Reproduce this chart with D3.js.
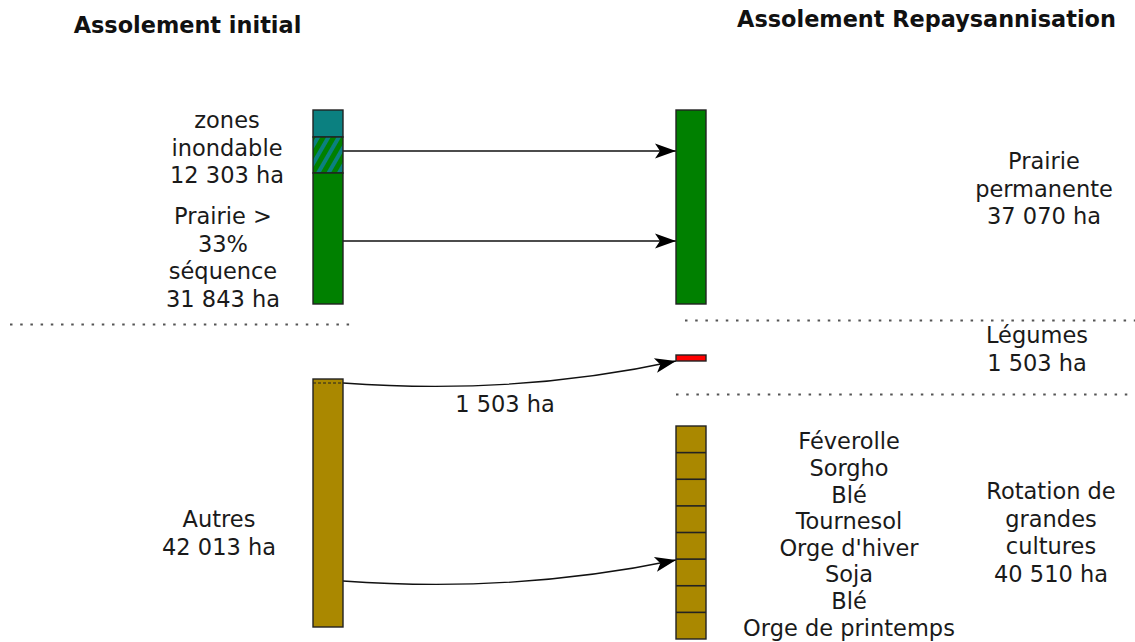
<!DOCTYPE html>
<html><head><meta charset="utf-8">
<script src="https://cdn.jsdelivr.net/npm/d3@7"></script>
<style>html,body{margin:0;padding:0;background:#fff;}svg{display:block;font-family:"DejaVu Sans",sans-serif;}</style>
</head><body>
<svg id="c" width="1135" height="642"></svg>
<script>
// ---- data ----
const titles = ["Assolement initial", "Assolement Repaysannisation"];
const columns = ["initial", "repaysannisation"];
// schematic blocks (extent in schematic units from the top of the bars)
const leftBlocks = [
  {name: "zones inondable", kind: "teal", from: 0, to: 27},
  {name: "zones inondable (prairie)", kind: "hatch", from: 27, to: 63},
  {name: "Prairie > 33% séquence", kind: "green", from: 63, to: 194},
  {name: "Autres", kind: "brown", from: 269, to: 517}
];
const rightBlocks = [
  {name: "Prairie permanente", kind: "green", from: 0, to: 194},
  {name: "Légumes", kind: "red", from: 245, to: 251},
  {name: "Rotation de grandes cultures", kind: "brown", from: 316, to: 529}
];
const crops = ["Féverolle", "Sorgho", "Blé", "Tournesol", "Orge d'hiver", "Soja", "Blé", "Orge de printemps"];
const surfaces = {zones: 12303, prairie33: 31843, autres: 42013, prairiePerm: 37070, legumes: 1503, rotation: 40510, transfert: 1503};
// flows: start level on left bar -> end level on right bar
const flows = [
  {from: 41, to: 41, curved: false},
  {from: 131, to: 131, curved: false},
  {from: 273, to: 251, curved: true, label: "1 503 ha"},
  {from: 471, to: 450, curved: true}
];
// separators (schematic level, column side)
const separators = [
  {level: 214, side: 0},
  {level: 210, side: 1},
  {level: 284, side: 1}
];

const fmt = v => d3.format(",")(v).replace(/,/g, " ") + " ha";
const leftLabels = [
  {lines: ["zones", "inondable", fmt(surfaces.zones)], level: 18, dx: 1},
  {lines: ["Prairie >", "33%", "séquence", fmt(surfaces.prairie33)], level: 114, dx: -3},
  {lines: ["Autres", fmt(surfaces.autres)], level: 417, dx: -7}
];
const rightLabels = [
  {lines: ["Prairie", "permanente", fmt(surfaces.prairiePerm)], level: 59, dx: -1},
  {lines: ["Légumes", fmt(surfaces.legumes)], level: 233, dx: -8},
  {lines: ["Rotation de", "grandes", "cultures", fmt(surfaces.rotation)], level: 389, dx: 6}
];

// ---- scales ----
const y = d3.scaleLinear().domain([0, 529]).range([110, 639]);
const x = d3.scalePoint().domain(columns).range([313, 676]);
const barW = 30;
const colors = {teal: "#0b8080", green: "#008000", brown: "#aa8800", red: "#ff0000", hatch: "url(#hatch)"};
const FS = 22.5;

const svg = d3.select("#c");
const defs = svg.append("defs");
const pat = defs.append("pattern").attr("id", "hatch").attr("patternUnits", "userSpaceOnUse")
  .attr("width", 9).attr("height", 9).attr("patternTransform", "rotate(30)");
pat.append("rect").attr("width", 9).attr("height", 9).attr("fill", "#008000");
pat.append("rect").attr("x", 0).attr("y", 0).attr("width", 4).attr("height", 9).attr("fill", "#0b8080");

defs.append("marker").attr("id", "arr").attr("viewBox", "-23 -8 25 16")
  .attr("refX", 0).attr("refY", 0).attr("markerWidth", 25).attr("markerHeight", 16)
  .attr("markerUnits", "userSpaceOnUse").attr("orient", "auto")
  .append("path").attr("d", "M0,0 L-21,-7.5 L-16,0 L-21,7.5 Z").attr("fill", "#000");

// titles
svg.selectAll("text.title").data(titles).join("text").attr("class", "title")
  .attr("x", (d, i) => i === 0 ? 187.5 : 926.5)
  .attr("y", (d, i) => i === 0 ? 33 : 27)
  .attr("text-anchor", "middle").attr("font-weight", "bold").attr("font-size", 22.4)
  .attr("fill", "#111").text(d => d);

// separators
svg.selectAll("line.sep").data(separators).join("line").attr("class", "sep")
  .attr("x1", d => d.side === 0 ? 10 : x(columns[1]) + (d.level === 210 ? 9 : 0))
  .attr("x2", d => d.side === 0 ? 352 : 1135)
  .attr("y1", d => Math.round(y(d.level)) + 0.5).attr("y2", d => Math.round(y(d.level)) + 0.5)
  .attr("stroke", "#555").attr("stroke-width", 2).attr("stroke-dasharray", "2.5,7.7");

// flows
svg.selectAll("path.flow").data(flows).join("path").attr("class", "flow")
  .attr("d", d => {
    const x0 = x(columns[0]) + barW, x1 = x(columns[1]);
    const y0 = y(d.from), y1 = y(d.to);
    if (!d.curved) return `M${x0},${y0} L${x1},${y1}`;
    return `M${x0},${y0} C${x0 + 110},${y0 + 8} ${x1 - 110},${y0 + 2} ${x1},${y1}`;
  })
  .attr("fill", "none").attr("stroke", "#111").attr("stroke-width", 1.3)
  .attr("marker-end", "url(#arr)");

// bars
function drawBlocks(blocks, col) {
  svg.append("g").selectAll("rect").data(blocks).join("rect")
    .attr("x", x(col)).attr("width", barW)
    .attr("y", d => y(d.from)).attr("height", d => y(d.to) - y(d.from))
    .attr("fill", d => colors[d.kind]).attr("stroke", "#222").attr("stroke-width", 1.4);
}
drawBlocks(leftBlocks, columns[0]);
drawBlocks(rightBlocks, columns[1]);

// crop segments in right brown bar
const rot = rightBlocks[2];
const seg = d3.scaleBand().domain(d3.range(crops.length)).range([y(rot.from), y(rot.to)]);
svg.append("g").selectAll("line").data(d3.range(1, crops.length)).join("line")
  .attr("x1", x(columns[1])).attr("x2", x(columns[1]) + barW)
  .attr("y1", d => seg(d)).attr("y2", d => seg(d))
  .attr("stroke", "#222").attr("stroke-width", 1.6);

// dashed line in left brown bar (transferred part)
svg.append("line").attr("x1", x(columns[0])).attr("x2", x(columns[0]) + barW)
  .attr("y1", y(flows[2].from)).attr("y2", y(flows[2].from))
  .attr("stroke", "#222").attr("stroke-width", 1).attr("stroke-dasharray", "3,2");

// labels
const lh = 27.5;
function drawLabels(labels, cx) {
  labels.forEach(l => {
    svg.append("g").selectAll("text").data(l.lines).join("text")
      .attr("x", cx + l.dx).attr("y", (d, i) => y(l.level) + i * lh)
      .attr("text-anchor", "middle").attr("font-size", FS).attr("fill", "#1a1a1a").text(d => d);
  });
}
drawLabels(leftLabels, 226);
drawLabels(rightLabels, 1045);

// flow label
svg.append("text").attr("x", 505).attr("y", 412).attr("text-anchor", "middle")
  .attr("font-size", FS).attr("fill", "#1a1a1a").text(flows[2].label);

// crop labels
svg.append("g").selectAll("text").data(crops).join("text")
  .attr("x", 849).attr("y", (d, i) => seg(i) + seg.bandwidth() / 2 + 10)
  .attr("text-anchor", "middle").attr("font-size", FS).attr("fill", "#1a1a1a").text(d => d);
</script>
</body></html>
